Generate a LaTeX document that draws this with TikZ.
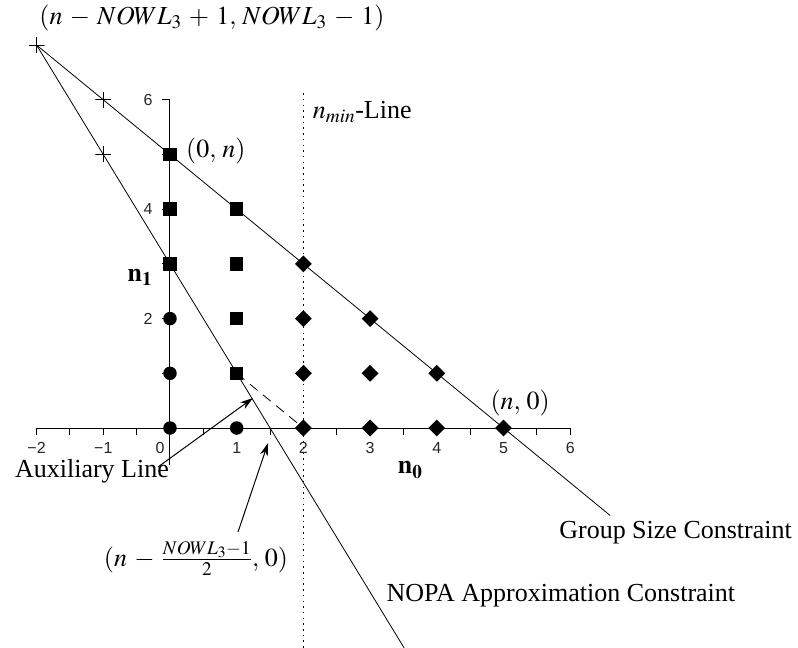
\documentclass[tikz,border=0pt]{standalone}
\usepackage{mathptmx}
\usepackage[no-math]{fontspec}
\setmainfont{Liberation Serif}
\newfontfamily\ticksans{Liberation Sans}
\usetikzlibrary{arrows.meta,shapes.geometric}
\medmuskip=5mu plus 2mu minus 2mu
\begin{document}
\begin{tikzpicture}[x=66.7pt,y=54.7pt,
  every node/.style={font=\fontsize{26}{30}\selectfont},
  mk/.style={inner sep=0pt, fill=black, draw=none},
  sq/.style={mk, rectangle, minimum size=13.5pt},
  dot/.style={mk, circle, minimum size=13.5pt},
  dia/.style={mk, diamond, minimum size=17pt},
  crs/.style={inner sep=0pt, minimum size=16pt, path picture={
     \draw[line width=0.9pt] (path picture bounding box.north) -- (path picture bounding box.south)
       (path picture bounding box.west) -- (path picture bounding box.east);}},
  ln/.style={line width=0.8pt},
  axis/.style={line width=1pt},
  ticklbl/.style={font=\ticksans\fontsize{16}{18}\selectfont, inner sep=0pt, text=black!85},
  lbl/.style={inner sep=0pt},
  arr/.style={line width=1pt, -{Stealth[length=13pt,width=8pt]}},
]
\useasboundingbox (-2.5487,-4.0219) rectangle (9.4153,7.8245);

% coordinates
\coordinate (gEnd) at (6.6,-1.6);
\coordinate (nEnd) at (3.52,-4.04);
\coordinate (minTop) at (2,6.12);
\coordinate (minBot) at (2,-4.03);
\coordinate (xL) at (-2,0);
\coordinate (xR) at (6,0);
\coordinate (yT) at (0,6);
\coordinate (yB) at (0,-0.68);
\coordinate (auxT) at (-0.18,-0.713);
\coordinate (auxH) at (1.244,0.548);
\coordinate (frT) at (1.02,-1.90);
\coordinate (frH) at (1.47,-0.274);

% n_min line
\draw[line width=1.2pt, dash pattern=on 1.5pt off 4.2pt] (minTop) -- (minBot);

% axes
\draw[axis] (xL) -- (xR);
\foreach \x in {-2,-1.5,...,6} \draw[axis] (\x,0) -- ++(0,-6.5pt);
\draw[axis] (yT) -- (yB);
\foreach \y in {0,...,6} \draw[axis] (0,\y) -- ++(-8pt,0);

% tick labels
\foreach \x/\t in {-2/{−2},-1/{−1},1/1,2/2,3/3,4/4,5/5,6/6}
  \node[ticklbl] (tx\x) at (\x,-0.366) {\t};
\node[ticklbl] (tx0) at (-0.15,-0.366) {0};
\foreach \y in {2,4,6}
  \node[ticklbl] (ty\y) at (-0.33,\y) {\y};

% markers
\node[crs] (X1) at (-2,7) {};
\node[crs] (X2) at (-1,6) {};
\node[crs] (X3) at (-1,5) {};

% constraint lines
\draw[ln] (X1.center) -- (gEnd);
\draw[ln] (X1.center) -- (nEnd);

% points
\node[dot] (p00) at (0,0) {};
\node[dot] (p01) at (0,1) {};
\node[dot] (p02) at (0,2) {};
\node[dot] (p10) at (1,0) {};
\node[sq] (p03) at (0,3) {};
\node[sq] (p04) at (0,4) {};
\node[sq] (p05) at (0,5) {};
\node[sq] (p11) at (1,1) {};
\node[sq] (p12) at (1,2) {};
\node[sq] (p13) at (1,3) {};
\node[sq] (p14) at (1,4) {};
\node[dia] (p20) at (2,0) {};
\node[dia] (p21) at (2,1) {};
\node[dia] (p22) at (2,2) {};
\node[dia] (p23) at (2,3) {};
\node[dia] (p30) at (3,0) {};
\node[dia] (p31) at (3,1) {};
\node[dia] (p32) at (3,2) {};
\node[dia] (p40) at (4,0) {};
\node[dia] (p41) at (4,1) {};
\node[dia] (p50) at (5,0) {};

% auxiliary dashed line
\draw[ln, dash pattern=on 10pt off 7pt] (p11.center) -- (p20.center);

% arrows
\draw[arr] (auxT) -- (auxH);
\draw[arr] (frT) -- (frH);

% labels
\node[lbl] (topl) at (0.63,7.495) {$(n-NOWL_3+1,\,NOWL_3-1)$};
\node[lbl, anchor=west] (l0n) at (0.24,5.06) {$(0,\,n)$};
\node[lbl, anchor=west] (lmin) at (2.14,5.78) {$n_{min}$-Line};
\node[lbl] (ln1) at (-0.45,2.76) {$\mathbf{n_1}$};
\node[lbl] (ln0) at (3.6,-0.77) {$\mathbf{n_0}$};
\node[lbl] (ln0b) at (5.25,0.46) {$(n,\,0)$};
\node[lbl] (laux) at (-1.17,-0.80) {Auxiliary Line};
\node[lbl] (lgrp) at (7.58,-1.92) {Group Size Constraint};
\node[lbl] (lnopa) at (5.86,-3.07) {NOPA Approximation Constraint};
\node[lbl] (lfrac) at (0.39,-2.38) {$(n-\frac{NOWL_3-1}{2},\,0)$};
\end{tikzpicture}
\end{document}
